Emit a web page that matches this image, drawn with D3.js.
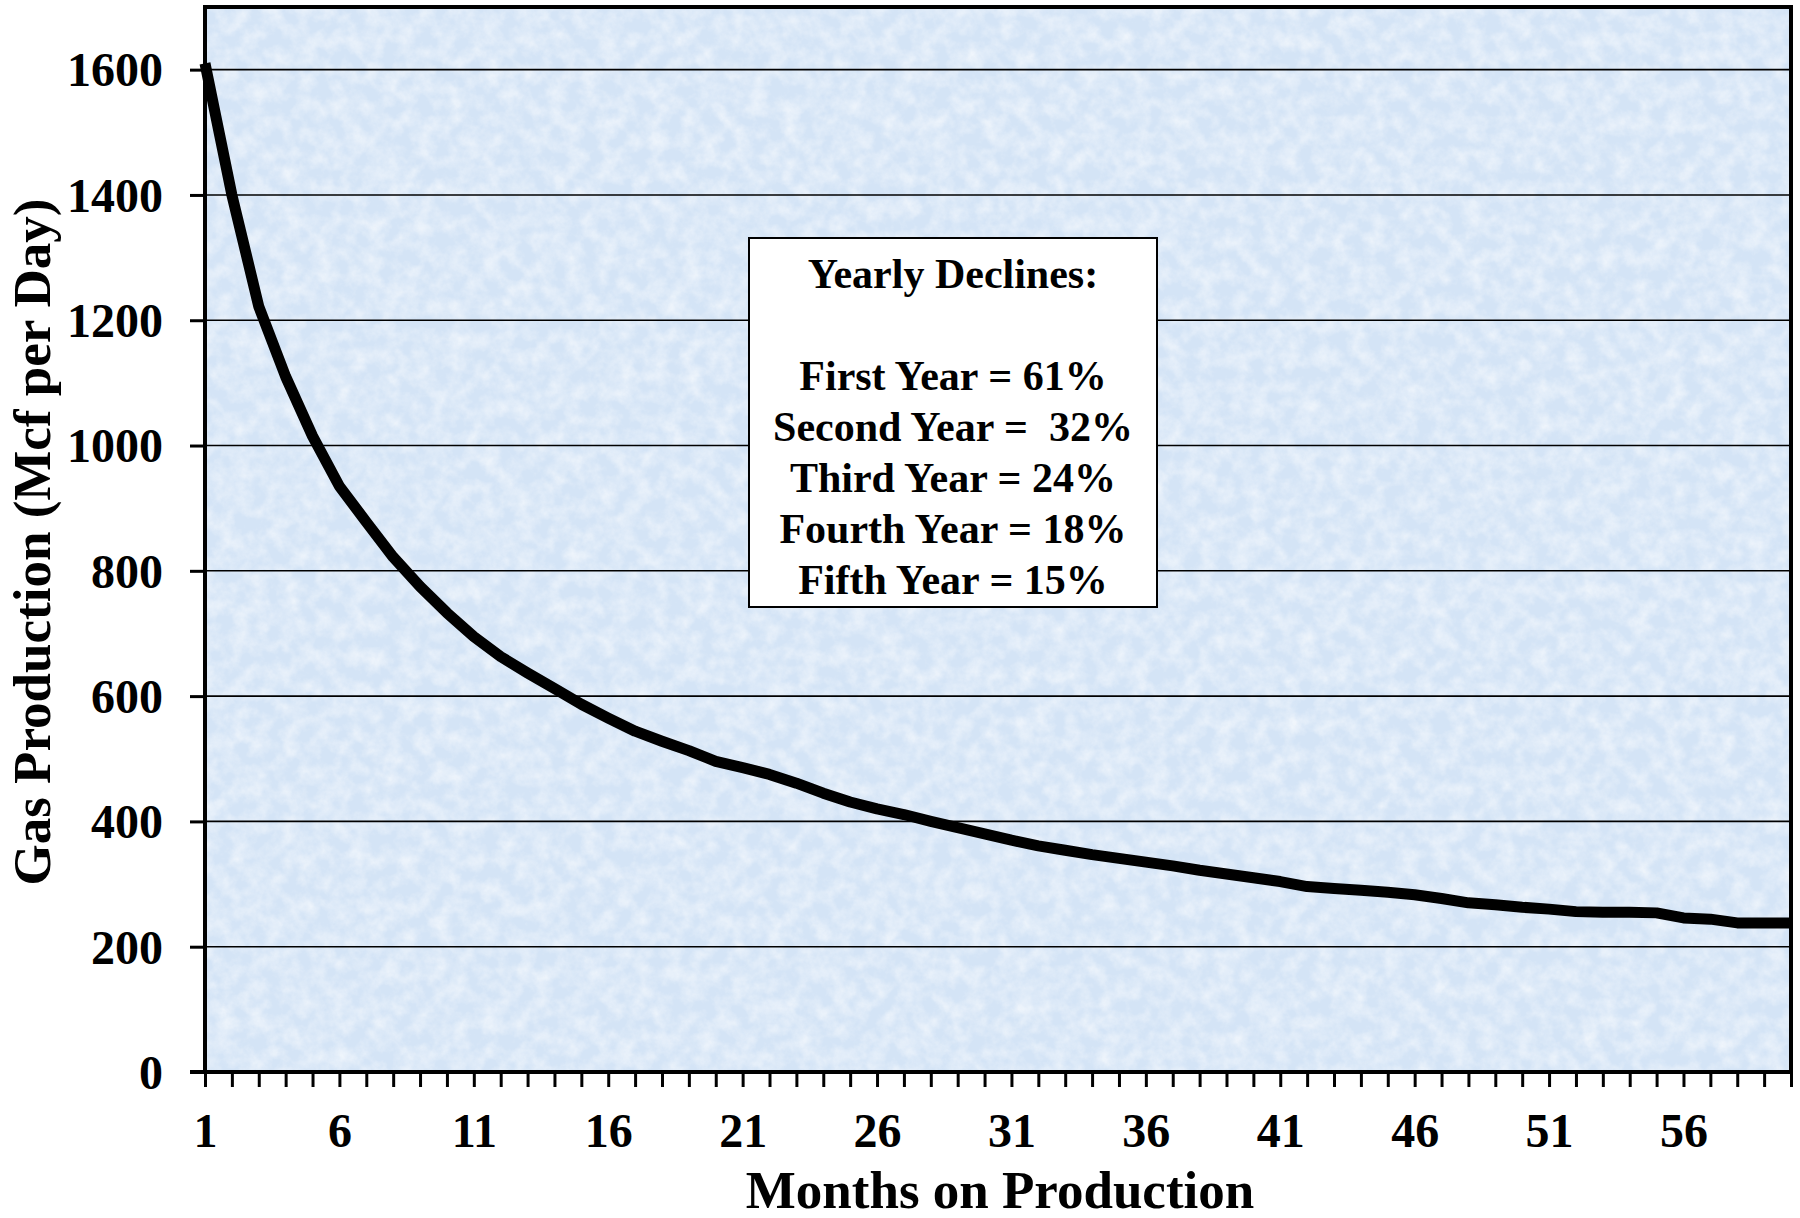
<!DOCTYPE html>
<html>
<head>
<meta charset="utf-8">
<script src="https://cdnjs.cloudflare.com/ajax/libs/d3/7.8.5/d3.min.js"></script>
<style>
  body { margin: 0; background: #fff; }
  svg text { font-family: "Liberation Serif", "Times New Roman", serif; font-weight: bold; fill: #000; }
</style>
</head>
<body>
<div class="chart"></div>
<script>
// months on production (1..60)
var months = d3.range(1, 61);

// gas production, Mcf per day
var production = [
  1610, 1400, 1222, 1110, 1015, 935, 878, 822, 775, 733,
  695, 663, 637, 612, 587, 565, 544, 528, 513, 496,
  486, 475, 461, 445, 431, 420, 411, 400, 390, 380,
  370, 361, 354, 347, 341, 335, 329, 322, 316, 310,
  304, 296, 293, 290, 287, 283, 277, 270, 267, 263,
  260, 256, 255, 255, 254, 246, 244, 238, 238, 238
];

var yTicks = [0, 200, 400, 600, 800, 1000, 1200, 1400, 1600];
var xLabels = [1, 6, 11, 16, 21, 26, 31, 36, 41, 46, 51, 56];

var declineTitle = "Yearly Declines:";
var declineLines = [
  "First Year = 61%",
  "Second Year =  32%",
  "Third Year = 24%",
  "Fourth Year = 18%",
  "Fifth Year = 15%"
];

var width = 1800,
    height = 1218,
    plotLeft = 205,
    plotRight = 1791,
    plotTop = 7,
    plotBottom = 1072;

var svg = d3.select('.chart').append('svg').attr('width', width).attr('height', height);

//texture for the plot background
var defs = svg.append('defs');
var filt = defs.append('filter').attr('id', 'tex').attr('x', 0).attr('y', 0).attr('width', 1).attr('height', 1);
filt.append('feTurbulence').attr('type', 'fractalNoise').attr('baseFrequency', '0.06').attr('numOctaves', 4).attr('seed', 7);
filt.append('feColorMatrix').attr('type', 'matrix')
  .attr('values', '0 0 0 0 1  0 0 0 0 1  0 0 0 0 1  1.5 0 0 0 -0.5');

var xScale = d3.scaleLinear().domain([1, 60]).range([plotLeft, plotRight]);
var yScale = d3.scaleLinear().domain([0, 1700]).range([plotBottom, plotTop]);

//plot area
svg.append('rect').attr('x', plotLeft).attr('y', plotTop).attr('width', plotRight - plotLeft).attr('height', plotBottom - plotTop)
  .attr('fill', '#d4e4f6');
svg.append('rect').attr('x', plotLeft).attr('y', plotTop).attr('width', plotRight - plotLeft).attr('height', plotBottom - plotTop)
  .attr('fill', '#fff').attr('filter', 'url(#tex)').attr('opacity', 0.7);

//horizontal gridlines
svg.append('g').selectAll('line').data(yTicks.filter(function (d) { return d > 0; })).enter().append('line')
  .attr('x1', plotLeft).attr('x2', plotRight)
  .attr('y1', function (d) { return yScale(d); })
  .attr('y2', function (d) { return yScale(d); })
  .attr('stroke', '#000').attr('stroke-width', 1.6);

//legend box with the yearly declines
var box = svg.append('g');
box.append('rect').attr('x', 749).attr('y', 238).attr('width', 408).attr('height', 369)
  .attr('fill', '#fff').attr('stroke', '#000').attr('stroke-width', 2);
box.append('text').attr('x', 953).attr('y', 288).attr('text-anchor', 'middle')
  .style('font-size', '42px').text(declineTitle);
box.selectAll('.dl').data(declineLines).enter().append('text').attr('class', 'dl')
  .attr('x', 953)
  .attr('y', function (d, i) { return 390 + i * 51; })
  .attr('text-anchor', 'middle')
  .style('font-size', '42px').style('white-space', 'pre')
  .text(function (d) { return d; });

//production curve
var line = d3.line()
  .x(function (d, i) { return xScale(months[i]); })
  .y(function (d) { return yScale(d); });
svg.append('path').datum(production).attr('d', line)
  .attr('fill', 'none').attr('stroke', '#000').attr('stroke-width', 11)
  .attr('stroke-linejoin', 'round').attr('stroke-linecap', 'butt');

//frame
svg.append('rect').attr('x', plotLeft).attr('y', plotTop).attr('width', plotRight - plotLeft).attr('height', plotBottom - plotTop)
  .attr('fill', 'none').attr('stroke', '#000').attr('stroke-width', 4);

//y axis
var yAxis = d3.axisLeft(yScale).tickValues(yTicks).tickSize(15).tickPadding(0).tickFormat(d3.format('d'));
var ySVG = svg.append('g').attr('transform', 'translate(' + plotLeft + ',0)').call(yAxis);
ySVG.select('.domain').remove();
ySVG.selectAll('line').attr('stroke', '#000').attr('stroke-width', 3);
ySVG.selectAll('text').attr('x', -42).attr('dy', '0.34em').style('font-size', '48px');

//x axis
var xAxis = d3.axisBottom(xScale).tickValues(months).tickSize(15).tickPadding(0)
  .tickFormat(function (d) { return xLabels.indexOf(d) >= 0 ? d : ''; });
var xSVG = svg.append('g').attr('transform', 'translate(0,' + plotBottom + ')').call(xAxis);
xSVG.select('.domain').attr('stroke', '#000').attr('stroke-width', 4).attr('d', 'M' + (plotLeft - 15) + ',0H' + plotRight);
xSVG.selectAll('line').attr('stroke', '#000').attr('stroke-width', 3);
xSVG.selectAll('text').attr('y', 75).attr('dy', 0).style('font-size', '48px');

//axis titles
svg.append('text').attr('x', (plotLeft + plotRight) / 2 + 2).attr('y', 1208).attr('text-anchor', 'middle')
  .style('font-size', '53px').text('Months on Production');
svg.append('text').attr('transform', 'translate(50,542) rotate(-90)').attr('text-anchor', 'middle')
  .style('font-size', '53px').text('Gas Production (Mcf per Day)');
</script>
</body>
</html>
